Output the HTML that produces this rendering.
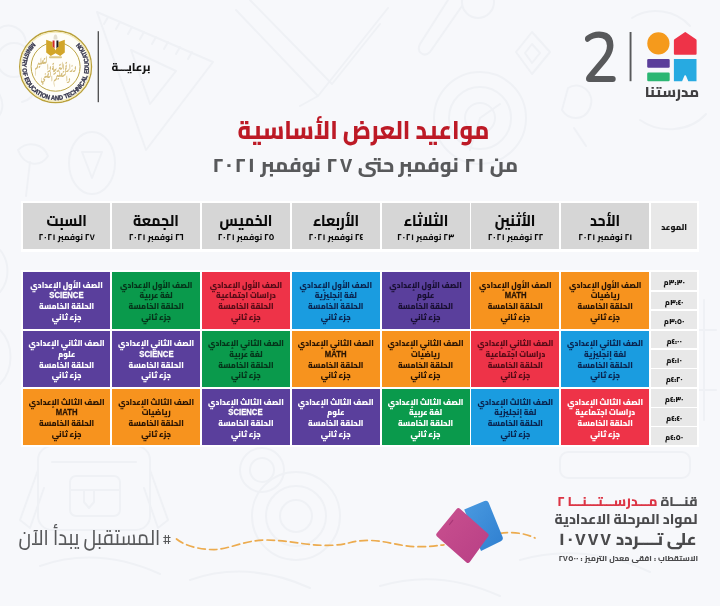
<!DOCTYPE html>
<html lang="ar">
<head>
<meta charset="utf-8">
<title>مواعيد العرض الأساسية</title>
<style>
html,body{margin:0;padding:0}
body{width:720px;height:606px;overflow:hidden;background:#f7f8fb;font-family:"Cairo", "Liberation Sans", "DejaVu Sans", sans-serif;position:relative}
.abs,.c,.h,.t{position:absolute;box-sizing:border-box}
.tx{position:absolute;white-space:nowrap;direction:rtl;line-height:1}
.c{direction:rtl;text-align:center;font-weight:900;font-size:7.6px;line-height:10.6px;padding-top:7.9px;white-space:nowrap;overflow:hidden}
.c p{margin:0;height:10.6px;transform:scaleY(1.1)}
.en{font-family:"Liberation Sans","DejaVu Sans",sans-serif;font-size:8.3px;font-weight:700;line-height:0;letter-spacing:0;display:inline-block;transform:scaleX(.93);position:relative;top:.4px;-webkit-text-stroke:.25px currentColor}
.h{background:#d6d6d6;direction:rtl;text-align:center;white-space:nowrap;color:#0a0a0a;overflow:hidden}
.h b{display:block;font-size:14.6px;line-height:20px;font-weight:800;margin-top:7.9px;transform:scale(.95,1.09)}
.h i{display:block;font-style:normal;font-size:8.3px;line-height:11px;font-weight:800;margin-top:.6px}
.t{background:#e8e8e8;direction:rtl;text-align:center;font-weight:900;font-size:7.4px;color:#151515;white-space:nowrap;left:651.3px;width:45.8px;overflow:hidden}
.panel{position:absolute;background:#fff}
.dg u{text-decoration:none;margin:0 1.2px}
.dw u{text-decoration:none;margin:0 .7px}
.dh u{text-decoration:none;margin:0 .35px}
</style>
</head>
<body>
<svg class="abs" style="left:0;top:0" width="720" height="606" viewBox="0 0 720 606" fill="none" stroke="#eff1f5" stroke-width="2" stroke-linecap="round" stroke-linejoin="round">
<path d="M97 12 L213 62 L146 150 Z M131 50 L176 71 L150 104 Z"/>
<path d="M104 24 l4 -7 M116 29 l4 -7 M128 34 l4 -7 M140 39 l4 -7 M152 44 l4 -7 M164 49 l4 -7 M176 54 l4 -7 M188 59 l4 -7"/>
<circle cx="14" cy="60" r="17"/><path d="M0 28 C10 22 24 28 26 42 M28 70 C40 78 38 98 22 102 M-2 92 C6 104 2 116 -6 120"/>
<ellipse cx="92" cy="163" rx="23" ry="31"/><path d="M82 152 h20 l-10 26z"/>
<path d="M18 150 C28 140 44 144 48 156 C40 168 24 166 18 150z M30 162 l-4 34"/>
<path d="M236 10 L318 96 M250 0 L332 84 M318 96 L388 8 M332 84 L380 24 M300 106 L318 96"/>
<path d="M448 0 L420 44 C416 52 424 58 430 52 L462 6"/><circle cx="478" cy="2" r="16"/>
<path d="M532 32 l18 20 l-18 22 l-16 -22z M532 44 l8 9 l-8 10 l-7 -10z"/>
<circle cx="480" cy="118" r="46"/><circle cx="480" cy="118" r="31"/><circle cx="480" cy="118" r="15"/>
<path d="M480 118 L470 150 M480 118 L500 104"/>
<path d="M568 88 C580 80 596 92 590 108 C584 122 568 120 562 110z M574 128 l12 18"/>
<path d="M632 18 C650 6 676 10 690 26 M640 120 C660 134 690 132 706 114"/>
<rect x="38" y="446" width="112" height="84" rx="14"/><path d="M52 462 h84 M62 446 v-10 h64 v10"/>
<rect x="70" y="476" width="50" height="40" rx="6"/><path d="M70 490 h50 M84 490 v12 l5 6 l5 -6 v-12"/>
<path d="M38 470 L20 520 l10 8 l14 -40 M150 470 L168 520 l-10 8 l-14 -40"/>
<circle cx="262" cy="470" r="22"/><circle cx="262" cy="470" r="12"/>
<circle cx="296" cy="516" r="44"/><circle cx="296" cy="516" r="30"/><circle cx="296" cy="516" r="16"/>
<path d="M40 566 C80 552 120 556 160 574 M190 580 C230 566 270 570 310 588"/>
<rect x="560" y="452" width="130" height="26" rx="8"/>
<path d="M690 300 v120 M704 300 v120 M676 330 h40 M676 390 h40"/>
<path d="M520 560 C560 548 610 552 650 572 M380 586 C420 574 460 578 500 596"/>
<path d="M0 250 C10 262 10 280 0 292 M0 330 C14 344 14 370 0 384"/>
</svg>


<div class="panel" style="left:21px;top:201.2px;width:678.2px;height:50.5px"></div>
<div class="panel" style="left:21px;top:270.4px;width:678.2px;height:176.6px"></div>
<div class="h" style="left:22.90px;top:203.4px;width:87.45px;height:46.1px"><b>السبت</b><i>٢٧ نوفمبر <span class="dh"><u>٢</u><u>٠</u><u>٢</u><u>١</u></span></i></div>
<div class="h" style="left:112.15px;top:203.4px;width:88.00px;height:46.1px"><b>الجمعة</b><i>٢٦ نوفمبر <span class="dh"><u>٢</u><u>٠</u><u>٢</u><u>١</u></span></i></div>
<div class="h" style="left:201.95px;top:203.4px;width:88.00px;height:46.1px"><b>الخميس</b><i>٢٥ نوفمبر <span class="dh"><u>٢</u><u>٠</u><u>٢</u><u>١</u></span></i></div>
<div class="h" style="left:291.75px;top:203.4px;width:88.00px;height:46.1px"><b>الأربعاء</b><i>٢٤ نوفمبر <span class="dh"><u>٢</u><u>٠</u><u>٢</u><u>١</u></span></i></div>
<div class="h" style="left:381.55px;top:203.4px;width:88.00px;height:46.1px"><b>الثلاثاء</b><i>٢٣ نوفمبر <span class="dh"><u>٢</u><u>٠</u><u>٢</u><u>١</u></span></i></div>
<div class="h" style="left:471.35px;top:203.4px;width:88.00px;height:46.1px"><b>الأثنين</b><i>٢٢ نوفمبر <span class="dh"><u>٢</u><u>٠</u><u>٢</u><u>١</u></span></i></div>
<div class="h" style="left:561.15px;top:203.4px;width:88.00px;height:46.1px"><b>الأحد</b><i>٢١ نوفمبر <span class="dh"><u>٢</u><u>٠</u><u>٢</u><u>١</u></span></i></div>
<div class="t" style="top:203.4px;height:46.1px;line-height:49.4px;font-size:8.1px">الموعد</div>
<div class="c" style="left:22.90px;top:272.0px;width:87.45px;height:56.7px;background:#5a3f9c;color:#ffffff"><p>الصف الأول الإعدادي</p><p><span class="en">SCIENCE</span></p><p>الحلقة الخامسة</p><p>جزء ثاني</p></div>
<div class="c" style="left:112.15px;top:272.0px;width:88.00px;height:56.7px;background:#0a9a4c;color:#05341a"><p>الصف الأول الإعدادي</p><p>لغة عربية</p><p>الحلقة الخامسة</p><p>جزء ثاني</p></div>
<div class="c" style="left:201.95px;top:272.0px;width:88.00px;height:56.7px;background:#ee3348;color:#560b16"><p>الصف الأول الإعدادي</p><p>دراسات اجتماعية</p><p>الحلقة الخامسة</p><p>جزء ثاني</p></div>
<div class="c" style="left:291.75px;top:272.0px;width:88.00px;height:56.7px;background:#1a9ce0;color:#0a2550"><p>الصف الأول الإعدادي</p><p>لغة إنجليزية</p><p>الحلقة الخامسة</p><p>جزء ثاني</p></div>
<div class="c" style="left:381.55px;top:272.0px;width:88.00px;height:56.7px;background:#5a3f9c;color:#190f33"><p>الصف الأول الإعدادي</p><p>علوم</p><p>الحلقة الخامسة</p><p>جزء ثاني</p></div>
<div class="c" style="left:471.35px;top:272.0px;width:88.00px;height:56.7px;background:#f7931e;color:#2b1503"><p>الصف الأول الإعدادي</p><p><span class="en">MATH</span></p><p>الحلقة الخامسة</p><p>جزء ثاني</p></div>
<div class="c" style="left:561.15px;top:272.0px;width:88.00px;height:56.7px;background:#f7931e;color:#2b1503"><p>الصف الأول الإعدادي</p><p>رياضيات</p><p>الحلقة الخامسة</p><p>جزء ثاني</p></div>
<div class="c" style="left:22.90px;top:330.6px;width:87.45px;height:56.3px;background:#5a3f9c;color:#ffffff"><p>الصف الثاني الإعدادي</p><p>علوم</p><p>الحلقة الخامسة</p><p>جزء ثاني</p></div>
<div class="c" style="left:112.15px;top:330.6px;width:88.00px;height:56.3px;background:#5a3f9c;color:#ffffff"><p>الصف الثاني الإعدادي</p><p><span class="en">SCIENCE</span></p><p>الحلقة الخامسة</p><p>جزء ثاني</p></div>
<div class="c" style="left:201.95px;top:330.6px;width:88.00px;height:56.3px;background:#0a9a4c;color:#05341a"><p>الصف الثاني الإعدادي</p><p>لغة عربية</p><p>الحلقة الخامسة</p><p>جزء ثاني</p></div>
<div class="c" style="left:291.75px;top:330.6px;width:88.00px;height:56.3px;background:#f7931e;color:#2b1503"><p>الصف الثاني الإعدادي</p><p><span class="en">MATH</span></p><p>الحلقة الخامسة</p><p>جزء ثاني</p></div>
<div class="c" style="left:381.55px;top:330.6px;width:88.00px;height:56.3px;background:#f7931e;color:#2b1503"><p>الصف الثاني الإعدادي</p><p>رياضيات</p><p>الحلقة الخامسة</p><p>جزء ثاني</p></div>
<div class="c" style="left:471.35px;top:330.6px;width:88.00px;height:56.3px;background:#ee3348;color:#560b16"><p>الصف الثاني الإعدادي</p><p>دراسات اجتماعية</p><p>الحلقة الخامسة</p><p>جزء ثاني</p></div>
<div class="c" style="left:561.15px;top:330.6px;width:88.00px;height:56.3px;background:#1a9ce0;color:#0a2550"><p>الصف الثاني الإعدادي</p><p>لغة إنجليزية</p><p>الحلقة الخامسة</p><p>جزء ثاني</p></div>
<div class="c" style="left:22.90px;top:389.0px;width:87.45px;height:55.6px;background:#f7931e;color:#2b1503"><p>الصف الثالث الإعدادي</p><p><span class="en">MATH</span></p><p>الحلقة الخامسة</p><p>جزء ثاني</p></div>
<div class="c" style="left:112.15px;top:389.0px;width:88.00px;height:55.6px;background:#f7931e;color:#2b1503"><p>الصف الثالث الإعدادي</p><p>رياضيات</p><p>الحلقة الخامسة</p><p>جزء ثاني</p></div>
<div class="c" style="left:201.95px;top:389.0px;width:88.00px;height:55.6px;background:#5a3f9c;color:#ffffff"><p>الصف الثالث الإعدادي</p><p><span class="en">SCIENCE</span></p><p>الحلقة الخامسة</p><p>جزء ثاني</p></div>
<div class="c" style="left:291.75px;top:389.0px;width:88.00px;height:55.6px;background:#5a3f9c;color:#ffffff"><p>الصف الثالث الإعدادي</p><p>علوم</p><p>الحلقة الخامسة</p><p>جزء ثاني</p></div>
<div class="c" style="left:381.55px;top:389.0px;width:88.00px;height:55.6px;background:#0a9a4c;color:#ffffff"><p>الصف الثالث الإعدادي</p><p>لغة عربية</p><p>الحلقة الخامسة</p><p>جزء ثاني</p></div>
<div class="c" style="left:471.35px;top:389.0px;width:88.00px;height:55.6px;background:#1a9ce0;color:#0a2550"><p>الصف الثالث الإعدادي</p><p>لغة إنجليزية</p><p>الحلقة الخامسة</p><p>جزء ثاني</p></div>
<div class="c" style="left:561.15px;top:389.0px;width:88.00px;height:55.6px;background:#ee3348;color:#ffffff"><p>الصف الثالث الإعدادي</p><p>دراسات اجتماعية</p><p>الحلقة الخامسة</p><p>جزء ثاني</p></div>
<div class="t" style="top:272.0px;height:17.6px;line-height:20.4px">٣:٣٠م</div>
<div class="t" style="top:291.6px;height:17.6px;line-height:20.4px">٣:٤٠م</div>
<div class="t" style="top:311.1px;height:17.6px;line-height:20.4px">٣:٥٠م</div>
<div class="t" style="top:330.6px;height:17.6px;line-height:20.4px">٤:٠٠م</div>
<div class="t" style="top:350.0px;height:17.6px;line-height:20.4px">٤:١٠م</div>
<div class="t" style="top:369.3px;height:17.6px;line-height:20.4px">٤:٢٠م</div>
<div class="t" style="top:389.0px;height:17.6px;line-height:20.4px">٤:٣٠م</div>
<div class="t" style="top:408.0px;height:17.6px;line-height:20.4px">٤:٤٠م</div>
<div class="t" style="top:427.0px;height:17.6px;line-height:20.4px">٤:٥٠م</div>
<div class="tx" id="ttl" style="left:0;width:727px;text-align:center;top:116.3px;font-size:23px;line-height:30px;font-weight:800;color:#bd1a26;transform:scaleY(1.13);transform-origin:50% 23.2px">مواعيد العرض الأساسية</div>
<div class="tx" id="sub" style="left:0;width:729px;text-align:center;top:150.4px;font-size:19.9px;line-height:30px;font-weight:800;color:#58595b;word-spacing:-.4px">من <span class="dg"><u>٢</u><u>١</u></span> نوفمبر حتى <span class="dg"><u>٢</u><u>٧</u></span> نوفمبر <span class="dg"><u>٢</u><u>٠</u><u>٢</u><u>١</u></span></div>
<svg class="abs" style="left:0;top:0" width="200" height="120" viewBox="0 0 200 120">
<circle cx="55.6" cy="66.7" r="35.9" fill="#fefdf8" stroke="#b9a03a" stroke-width="1.4"/>
<circle cx="55.6" cy="66.7" r="34.5" fill="none" stroke="#f4eab8" stroke-width="1.3"/>
<circle cx="55.6" cy="66.7" r="24.5" fill="#fffefa" stroke="#bda646" stroke-width="1"/>
<defs><path id="ring" d="M 32.82 42.27 A 33.4 33.4 0 1 0 78.38 42.27"/></defs>
<text font-family='"Liberation Sans", "DejaVu Sans", sans-serif' font-size="6.4" font-weight="700" fill="#33334a" stroke="#33334a" stroke-width="0.3" textLength="158.7" lengthAdjust="spacingAndGlyphs"><textPath href="#ring" textLength="158.7" lengthAdjust="spacingAndGlyphs">MINISTRY OF EDUCATION AND TECHNICAL EDUCATION</textPath></text>
<g>
<path d="M53.6 39.6 C53.2 36.6 54.2 34.6 55.5 34.6 C56.8 34.6 57.8 36.6 57.4 39.6 Z" fill="#e4dfd0"/>
<path d="M46.2 39.8 L52.4 42 L55.5 50.5 L58.6 42 L64.8 39.8 L64.8 52.6 L60.2 56 L55.5 53.2 L50.8 56 L46.2 52.6 Z" fill="#d2a528"/>
<path d="M52.6 40.6 h5.8 v5.6 l-2.9 3.4 l-2.9 -3.4z" fill="#fff"/>
<path d="M52.6 40.6 h1.95 v8 l-1.95 -2.4z" fill="#cf2a27"/>
<path d="M56.45 40.6 h1.95 v5.6 l-1.95 2.4z" fill="#1e1e1e"/>
<rect x="49" y="56.3" width="13" height="2" rx="1" fill="#dcc783"/>
</g>
<text x="55.6" y="71.5" text-anchor="middle" direction="rtl" font-family='"Aref Ruqaa", "Amiri", "DejaVu Sans", sans-serif' font-weight="700" font-size="12.5" fill="#d3bb78" textLength="41" lengthAdjust="spacingAndGlyphs">وزارة التربية والتعليم</text>
<text x="55.6" y="83.2" text-anchor="middle" direction="rtl" font-family='"Aref Ruqaa", "Amiri", "DejaVu Sans", sans-serif' font-weight="700" font-size="11" fill="#d3bb78" textLength="29" lengthAdjust="spacingAndGlyphs">والتعليم الفني</text>
<rect x="97.7" y="31.2" width="1.1" height="71" fill="#2b2b2b"/>
</svg>
<div class="tx" style="left:106px;width:50px;text-align:center;top:58.2px;font-size:11.4px;line-height:18px;font-weight:800;color:#151515">برعايـــة</div>
<svg class="abs" style="left:570px;top:20px" width="150" height="90" viewBox="570 20 150 90">
<rect x="629.6" y="32" width="1.9" height="49.2" fill="#58595b"/>
<circle cx="658.4" cy="43.4" r="11.1" fill="#f59a1c"/>
<path d="M674.8 54.8 h20.8 a1 1 0 0 0 1 -1 v-13.3 a1.5 1.5 0 0 0 -.6 -1.2 l-9.9 -6.9 a1.5 1.5 0 0 0 -1.7 0 l-9.9 6.9 a1.5 1.5 0 0 0 -.6 1.2 v13.3 a1 1 0 0 0 1 1z" fill="#ee3348"/>
<rect x="647.2" y="58.9" width="22.5" height="8.8" rx="1.2" fill="#5a3e9a"/>
<rect x="647.2" y="72.5" width="22.5" height="8.8" rx="1.2" fill="#2bb673"/>
<path d="M673.9 58.9 h22.6 v22.3 h-8.2 l-2.4 -5.6 a0.8 0.8 0 0 0 -1.4 0 l-2.4 5.6 h-8.2z" fill="#27aae1"/>
</svg>
<div class="tx" style="left:569.8px;width:60px;text-align:center;top:22.6px;font-family:'Nunito','Cairo','Liberation Sans',sans-serif;font-size:69.2px;line-height:72px;font-weight:600;color:#58595b;direction:ltr;transform:scaleX(.91)">2</div>
<div class="tx" style="left:640px;width:64px;text-align:center;top:80px;font-size:14.8px;line-height:24px;font-weight:800;color:#414042">مدرستنا</div>
<div class="tx" id="l1" style="right:22.5px;top:490.7px;font-size:13.5px;line-height:20px;font-weight:800;color:#4d4d4f">قنـــاة <span style="color:#dc3545">مـــدرســـتـــنـــا ٢</span></div>
<div class="tx" id="l2" style="right:22.5px;top:509px;font-size:13.9px;line-height:20px;font-weight:800;color:#4a4a4c">لمواد المرحلة الاعدادية</div>
<div class="tx" id="l3" style="right:23.5px;top:528px;font-size:17px;line-height:22px;font-weight:800;color:#4a4a4c">على تــــردد <span class="dg"><u>١</u><u>٠</u></span><span class="dw"><u>٧</u><u>٧</u><u>٧</u></span></div>
<div class="tx" id="l4" style="right:22px;top:552px;font-size:7.8px;line-height:12px;font-weight:800;color:#4a4a4c;word-spacing:.4px">الاستقطاب : افقى معدل الترميز : ٢٧٥٠٠</div>
<div class="tx" id="hs" style="left:18.6px;top:525px;font-size:18.9px;line-height:26px;font-weight:500;color:#58595b"><span style="font-size:14px;margin-left:2.8px;position:relative;top:-.8px">#</span><span style="display:inline-block;transform:scaleY(1.14);transform-origin:50% 68%">المستقبل يبدأ الآن</span></div>
<svg class="abs" style="left:0;top:470px" width="720" height="136" viewBox="0 470 720 136">
<defs>
<linearGradient id="gp" x1="0" y1="0" x2="1" y2="1"><stop offset="0" stop-color="#c9508f"/><stop offset="1" stop-color="#b83f85"/></linearGradient>
<linearGradient id="gb" x1="0" y1="0" x2="1" y2="1"><stop offset="0" stop-color="#4a9ae0"/><stop offset="1" stop-color="#2f7fd0"/></linearGradient>
</defs>
<path d="M176.5 539 C 185 546, 200 549.6, 214 549.6 S 245 540, 266 540 S 305 545.4, 326.7 545.4 S 350 540.4, 368 540.4 S 400 546.7, 418 546.7 S 435 545.6, 444 544.8" fill="none" stroke="#ecab4e" stroke-width="1.7" stroke-dasharray="7.5 4.2" stroke-linecap="round"/>
<path d="M500 533.4 C 512 531.6, 525 533, 535 538" fill="none" stroke="#ecab4e" stroke-width="1.7" stroke-dasharray="7.5 4.2" stroke-linecap="round"/>
<path d="M464.2 509.6 L484.5 501 Q487.5 499.8 488.7 502.8 L502.6 537 Q503.6 540 500.8 541.2 L481 551 Z" fill="url(#gb)"/>
<path d="M456.6 509 Q458.2 507.2 460 508.8 L487.8 533.4 Q489.5 535 488 536.8 L469.8 562 Q468.3 564 466.5 562.4 L437 536.4 Q435.4 534.9 436.8 533.2 Z" fill="url(#gp)"/>
<path d="M449.5 524.5 l3.2 -4.2" stroke="#a83676" stroke-width="1.2" stroke-linecap="round"/>
</svg>
</body>
</html>
